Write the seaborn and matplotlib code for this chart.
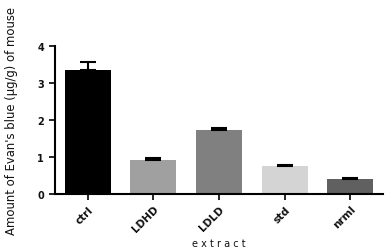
import matplotlib
matplotlib.use("Agg")
import matplotlib.pyplot as plt
import seaborn as sns
import pandas as pd

categories = ["ctrl", "LDHD", "LDLD", "std", "nrml"]
means = [3.35, 0.93, 1.74, 0.75, 0.40]
errors = [0.21, 0.04, 0.05, 0.04, 0.02]
colors = ["#000000", "#a0a0a0", "#808080", "#d4d4d4", "#606060"]

sns.set_theme(style="ticks")
plt.rcParams["font.family"] = ["DejaVu Sans"]
plt.rcParams["text.color"] = "#111111"
plt.rcParams["axes.labelcolor"] = "#111111"
plt.rcParams["xtick.labelcolor"] = "#111111"
plt.rcParams["ytick.labelcolor"] = "#111111"

df = pd.DataFrame({"extract": categories, "value": means})

fig = plt.figure(figsize=(3.85, 2.51), dpi=100)
ax = fig.add_axes([0.143, 0.223, 0.852, 0.59])
sns.barplot(data=df, x="extract", y="value", hue="extract", palette=colors,
            order=categories, legend=False, width=0.70, ax=ax, errorbar=None,
            saturation=1, linewidth=0)
ax.errorbar(range(len(categories)), means, yerr=[[0]*len(errors), errors],
            fmt="none", ecolor="black", elinewidth=1.5, capsize=6, capthick=1.5)
ax.set_xlim(-0.5, 4.5)
ax.set_ylim(0, 4)
ax.set_yticks([0, 1, 2, 3, 4])
sns.despine(ax=ax)
for s in ["left", "bottom"]:
    ax.spines[s].set_linewidth(1.5)
    ax.spines[s].set_color("black")
ax.tick_params(axis="both", width=1.2, length=4, color="black")
ax.tick_params(axis="y", labelsize=7, pad=4)
ax.tick_params(axis="x", labelsize=7.5, pad=3)
ax.set_xticks(range(len(categories)))
ax.set_xticklabels(categories, rotation=45, ha="right", rotation_mode="anchor",
                   fontweight="bold")
for t in ax.get_yticklabels():
    t.set_fontweight("bold")
ax.set_xlabel("e x t r a c t", fontsize=7, labelpad=3)
ax.set_ylabel("Amount of Evan's blue (µg/g) of mouse", fontsize=8.4,
              labelpad=14)
fig.savefig("out.png", dpi=100)
